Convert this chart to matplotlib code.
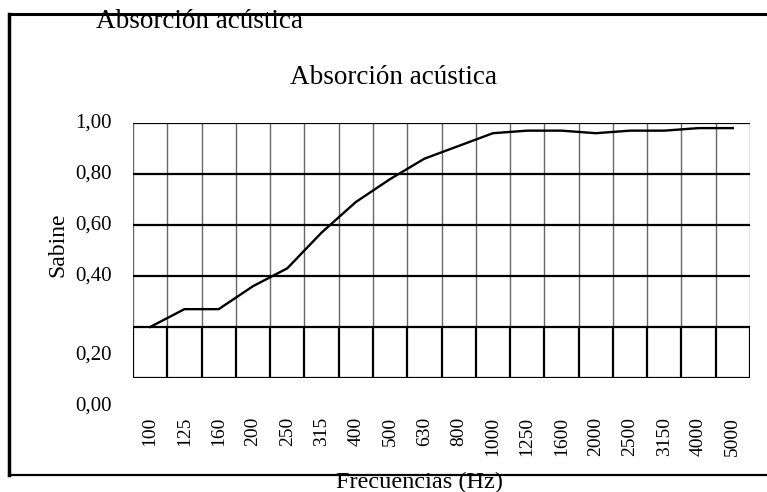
import matplotlib.pyplot as plt
from matplotlib.lines import Line2D

plt.rcParams['font.family'] = ['Liberation Serif', 'DejaVu Serif']

# data
frecuencias = ["100", "125", "160", "200", "250", "315", "400", "500", "630",
               "800", "1000", "1250", "1600", "2000", "2500", "3150", "4000", "5000"]
sabine = [0.20, 0.27, 0.27, 0.36, 0.43, 0.57, 0.69, 0.78, 0.86,
          0.91, 0.96, 0.97, 0.97, 0.96, 0.97, 0.97, 0.98, 0.98]
ytick_labels = ["1,00", "0,80", "0,60", "0,40", "0,20", "0,00"]
ytick_pos = [1.0, 0.8, 0.6, 0.4, 0.09, -0.11]  # the original has the lower two labels shifted
grid_y = [0.2, 0.4, 0.6, 0.8, 1.0]

W, H = 767, 492
fig = plt.figure(figsize=(W / 100, H / 100), dpi=100)
ax = fig.add_axes([133 / W, 1 - 378 / H, 617 / W, 255 / H])

x = list(range(len(frecuencias)))
ax.set_xlim(-0.5, len(frecuencias) - 0.5)
ax.set_ylim(0, 1)

# vertical grid: grey thin above 0.2, black below
for k in range(len(frecuencias) + 1):
    xv = k - 0.5
    ax.vlines(xv, 0.2, 1.0, color="#666666", lw=1.0, zorder=1)
    ax.vlines(xv, 0.0, 0.2, color="black", lw=1.6, zorder=1)
ax.hlines(grid_y, -0.5, len(frecuencias) - 0.5, color="black", lw=1.6, zorder=2)
ax.hlines(0, -0.5, len(frecuencias) - 0.5, color="black", lw=1.6, zorder=2)

ax.plot(x, sabine, color="black", lw=1.7, zorder=3)

for s in ax.spines.values():
    s.set_visible(False)

ax.set_yticks([])
for lab, yp in zip(ytick_labels, ytick_pos):
    ax.text(-0.034, yp, lab, transform=ax.get_yaxis_transform(), ha="right",
            va="center", fontsize=15)

ax.set_xticks(x)
ax.set_xticklabels(frecuencias, rotation=90, fontsize=14, va="top")
ax.tick_params(axis="x", length=0, pad=28)

fig.text(393 / W, 1 - 78 / H, "Absorción acústica", ha="center", va="center", fontsize=19.5)
fig.text(200 / W, 1 - 22 / H, "Absorción acústica", ha="center", va="center", fontsize=19.5)
fig.text(58 / W, 1 - 245 / H, "Sabine", ha="center", va="center", rotation=90, fontsize=17)
fig.text(420 / W, 1 - 482 / H, "Frecuencias (Hz)", ha="center", va="center", fontsize=17.5)

# outer frame (left, top, bottom)
fig.add_artist(Line2D([9 / W, 9 / W], [1 - 14 / H, 1 - 475 / H], color="black", lw=2.5))
fig.add_artist(Line2D([9 / W, 1], [1 - 14 / H, 1 - 14 / H], color="black", lw=2.2))
fig.add_artist(Line2D([9 / W, 1], [1 - 475 / H, 1 - 475 / H], color="black", lw=1.6))

fig.savefig("out.png", dpi=100)
